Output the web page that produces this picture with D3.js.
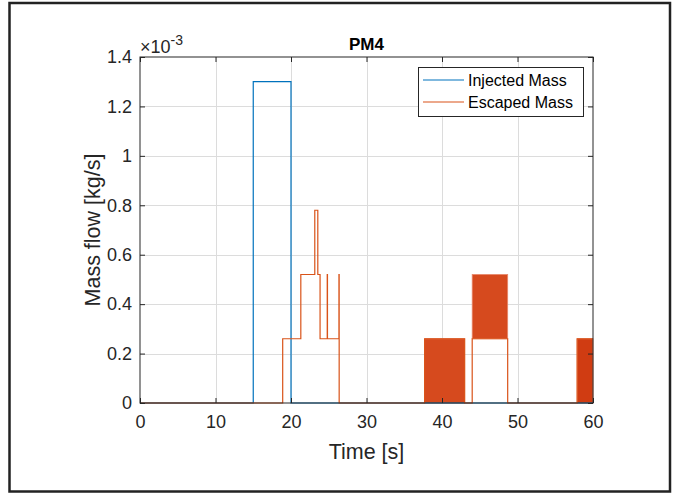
<!DOCTYPE html>
<html>
<head>
<meta charset="utf-8">
<script src="https://cdn.jsdelivr.net/npm/d3@7"></script>
<style>
  html, body { margin: 0; padding: 0; background: #fff; }
  svg { display: block; font-family: "Liberation Sans", Arial, Helvetica, sans-serif; }
</style>
</head>
<body>
<svg id="chart" width="676" height="495"></svg>
<script>
// ---- Data (mass flow in kg/s) ----
const injectedTime  = [0, 15, 20, 60];
const injectedValue = [0, 1.3e-3, 0, 0];

const escapedTime  = [0, 18.9, 21.3, 23.15, 23.55, 23.85, 24.8, 24.83, 26.35, 26.38, 37.7, 43.0, 44.0, 48.7, 57.9, 60];
const escapedValue = [0, 0.26e-3, 0.52e-3, 0.78e-3, 0.52e-3, 0.26e-3, 0.52e-3, 0.26e-3, 0.52e-3, 0, 0.26e-3, 0, 0.26e-3, 0, 0.26e-3, 0.26e-3];

// rapid on/off chatter intervals of the escaped mass
const chatterStart = [37.7, 44.0, 57.9];
const chatterEnd   = [43.0, 48.7, 60];
const chatterLow   = [0, 0.26e-3, 0];
const chatterHigh  = [0.26e-3, 0.52e-3, 0.26e-3];

const xTicks = [0, 10, 20, 30, 40, 50, 60];
const yTicks = [0, 0.2e-3, 0.4e-3, 0.6e-3, 0.8e-3, 1.0e-3, 1.2e-3, 1.4e-3];
const yTickLabels = ["0", "0.2", "0.4", "0.6", "0.8", "1", "1.2", "1.4"];
const seriesNames = ["Injected Mass", "Escaped Mass"];
const seriesColors = ["#0072BD", "#D95319"];

// ---- Layout ----
const svg = d3.select("#chart");
const L = 140, R = 593, T = 57, B = 403;
const x = d3.scaleLinear().domain([0, 60]).range([L, R]);
const y = d3.scaleLinear().domain([0, 1.4e-3]).range([B, T]);

// outer frame
svg.append("rect").attr("x", 9.5).attr("y", 3).attr("width", 660.5).attr("height", 488.5)
  .attr("fill", "#fff").attr("stroke", "#222").attr("stroke-width", 2.5);

// axes background
svg.append("rect").attr("x", L).attr("y", T).attr("width", R - L).attr("height", B - T).attr("fill", "#fff");

// grid
const grid = svg.append("g").attr("stroke", "#dcdcdc").attr("stroke-width", 1);
grid.selectAll("line.gx").data(xTicks.slice(1, -1)).join("line")
  .attr("x1", d => Math.round(x(d)) + 0.5).attr("x2", d => Math.round(x(d)) + 0.5)
  .attr("y1", T).attr("y2", B);
grid.selectAll("line.gy").data(yTicks.slice(1, -1)).join("line")
  .attr("y1", d => Math.round(y(d)) + 0.5).attr("y2", d => Math.round(y(d)) + 0.5)
  .attr("x1", L).attr("x2", R);

// chatter bands
svg.append("g").selectAll("rect").data(chatterStart).join("rect")
  .attr("x", (d, i) => x(d))
  .attr("width", (d, i) => x(chatterEnd[i]) - x(d))
  .attr("y", (d, i) => y(chatterHigh[i]))
  .attr("height", (d, i) => y(chatterLow[i]) - y(chatterHigh[i]))
  .attr("fill", (d, i) => i === 2 ? "#d03c12" : "#d64a1e")
  .attr("stroke", "#e8876a").attr("stroke-width", 0.8);

// lines
const stepLine = d3.line().curve(d3.curveStepAfter).x(d => x(d[0])).y(d => y(d[1]));
const injData = injectedTime.map((t, i) => [t, injectedValue[i]]);
const escData = escapedTime.map((t, i) => [t, escapedValue[i]]);
svg.append("path").datum(injData).attr("d", stepLine)
  .attr("fill", "none").attr("stroke", seriesColors[0]).attr("stroke-width", 1.2);
svg.append("path").datum(escData).attr("d", stepLine)
  .attr("fill", "none").attr("stroke", seriesColors[1]).attr("stroke-width", 1.2);

// axes box
svg.append("rect").attr("x", L).attr("y", T).attr("width", R - L).attr("height", B - T)
  .attr("fill", "none").attr("stroke", "#262626").attr("stroke-width", 1);

// axes with inward ticks
const tickFont = 18;
const xAxis = d3.axisBottom(x).tickValues(xTicks).tickSize(-5).tickPadding(12).tickFormat(d3.format("d"));
const gx = svg.append("g").attr("transform", `translate(0,${B})`).call(xAxis);
const xTop = d3.axisTop(x).tickValues(xTicks).tickSize(-5).tickFormat("");
const gxt = svg.append("g").attr("transform", `translate(0,${T})`).call(xTop);
const yAxis = d3.axisLeft(y).tickValues(yTicks).tickSize(-5).tickPadding(8)
  .tickFormat((d, i) => yTickLabels[i]);
const gy = svg.append("g").attr("transform", `translate(${L},0)`).call(yAxis);
const yRight = d3.axisRight(y).tickValues(yTicks).tickSize(-5).tickFormat("");
const gyr = svg.append("g").attr("transform", `translate(${R},0)`).call(yRight);
[gx, gxt, gy, gyr].forEach(g => {
  g.select(".domain").remove();
  g.selectAll(".tick line").attr("stroke", "#262626");
  g.selectAll("text").attr("fill", "#262626").attr("font-size", tickFont)
    .attr("font-family", "Liberation Sans, Arial, sans-serif");
});

// exponent
const ex = svg.append("text").attr("x", L).attr("y", 53).attr("fill", "#262626")
  .attr("font-size", 18);
ex.append("tspan").text("\u00D710");
ex.append("tspan").attr("dy", -8).attr("font-size", 14).text("-3");

// title
svg.append("text").attr("x", (L + R) / 2).attr("y", 50).attr("text-anchor", "middle")
  .attr("font-weight", "bold").attr("font-size", 17).attr("fill", "#000").text("PM4");

// axis labels
svg.append("text").attr("x", (L + R) / 2).attr("y", 459).attr("text-anchor", "middle")
  .attr("font-size", 21.5).attr("fill", "#262626").text("Time [s]");
svg.append("text").attr("transform", `translate(100,${(T + B) / 2}) rotate(-90)`)
  .attr("text-anchor", "middle").attr("font-size", 21.5).attr("fill", "#262626").text("Mass flow [kg/s]");

// legend
const lg = svg.append("g");
lg.append("rect").attr("x", 418.5).attr("y", 67.5).attr("width", 165).attr("height", 49)
  .attr("fill", "#fff").attr("stroke", "#262626").attr("stroke-width", 1);
seriesNames.forEach((name, i) => {
  const yy = 80 + i * 22;
  lg.append("line").attr("x1", 423).attr("x2", 464).attr("y1", yy).attr("y2", yy)
    .attr("stroke", seriesColors[i]).attr("stroke-width", 1.2);
  lg.append("text").attr("x", 468).attr("y", yy + 6).attr("font-size", 16)
    .attr("fill", "#000").text(name);
});
</script>
</body>
</html>
